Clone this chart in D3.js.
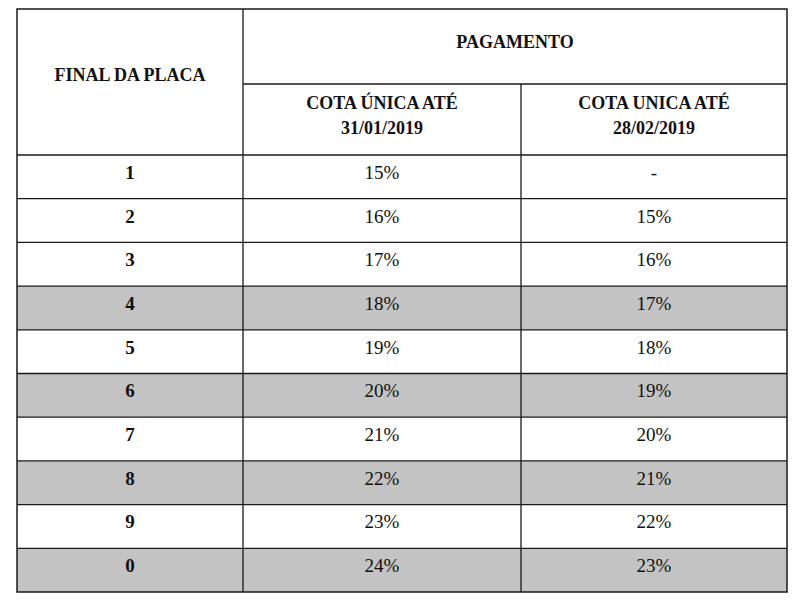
<!DOCTYPE html>
<html>
<head>
<meta charset="utf-8">
<script src="https://cdn.jsdelivr.net/npm/d3@7"></script>
<style>
  body { margin: 0; background: #fff; }
  text { font-family: "Liberation Serif", "Times New Roman", serif; fill: #111; }
</style>
</head>
<body>
<svg id="chart" width="800" height="602"></svg>
<script>
const finals = ['1', '2', '3', '4', '5', '6', '7', '8', '9', '0']
const cota31jan = ['15%', '16%', '17%', '18%', '19%', '20%', '21%', '22%', '23%', '24%']
const cota28fev = ['-', '15%', '16%', '17%', '18%', '19%', '20%', '21%', '22%', '23%']
const shaded = ['4', '6', '8', '0']
const headers = [['FINAL DA PLACA'], ['COTA ÚNICA ATÉ', '31/01/2019'], ['COTA UNICA ATÉ', '28/02/2019']]
const groupHeader = 'PAGAMENTO'

const tLeft = 17, tTop = 9, tRight = 787, tBottom = 592
const colEdges = [tLeft, 243, 521, tRight]
const headMid = 84, headBottom = 155

const svg = d3.select("#chart")

let y = d3.scaleBand()
    .domain(finals)
    .range([headBottom, tBottom])

const rows = finals.map(function(f, i) {
  return { key: f, vals: [f, cota31jan[i], cota28fev[i]] };
});

// row backgrounds
svg.selectAll("rect.row")
    .data(rows)
    .enter().append("rect")
      .attr("x", tLeft)
      .attr("y", d => y(d.key))
      .attr("width", tRight - tLeft)
      .attr("height", y.bandwidth())
      .attr("fill", d => shaded.includes(d.key) ? "#c3c3c3" : "#fff")

// cell texts
rows.forEach(function(r) {
  r.vals.forEach(function(v, c) {
    svg.append("text")
        .attr("x", (colEdges[c] + colEdges[c + 1]) / 2)
        .attr("y", y(r.key) + y.bandwidth() / 2 + 2)
        .attr("text-anchor", "middle")
        .attr("font-size", 19)
        .attr("font-weight", c === 0 ? "bold" : "normal")
        .text(v)
  })
})

// header texts
svg.append("text")
    .attr("x", (colEdges[0] + colEdges[1]) / 2)
    .attr("y", 81)
    .attr("text-anchor", "middle")
    .attr("font-size", 18)
    .attr("font-weight", "bold")
    .text(headers[0][0])

svg.append("text")
    .attr("x", (colEdges[1] + colEdges[3]) / 2)
    .attr("y", 48)
    .attr("text-anchor", "middle")
    .attr("font-size", 18)
    .attr("font-weight", "bold")
    .text(groupHeader)

for (let c = 1; c < 3; c++) {
  headers[c].forEach(function(line, k) {
    svg.append("text")
        .attr("x", (colEdges[c] + colEdges[c + 1]) / 2)
        .attr("y", 109 + k * 25)
        .attr("text-anchor", "middle")
        .attr("font-size", 18)
        .attr("font-weight", "bold")
        .text(line)
  })
}

// grid lines
const stroke = "#1a1a1a"
svg.append("rect")
    .attr("x", tLeft).attr("y", tTop)
    .attr("width", tRight - tLeft).attr("height", tBottom - tTop)
    .attr("fill", "none").attr("stroke", stroke).attr("stroke-width", 1.5)

svg.append("line")
    .attr("x1", colEdges[1]).attr("x2", tRight)
    .attr("y1", headMid).attr("y2", headMid)
    .attr("stroke", stroke).attr("stroke-width", 1.3)

svg.selectAll("line.h")
    .data(finals)
    .enter().append("line")
      .attr("x1", tLeft).attr("x2", tRight)
      .attr("y1", d => y(d)).attr("y2", d => y(d))
      .attr("stroke", stroke).attr("stroke-width", 1.3)

svg.append("line")
    .attr("x1", colEdges[1]).attr("x2", colEdges[1])
    .attr("y1", tTop).attr("y2", tBottom)
    .attr("stroke", stroke).attr("stroke-width", 1.3)

svg.append("line")
    .attr("x1", colEdges[2]).attr("x2", colEdges[2])
    .attr("y1", headMid).attr("y2", tBottom)
    .attr("stroke", stroke).attr("stroke-width", 1.3)
</script>
</body>
</html>
